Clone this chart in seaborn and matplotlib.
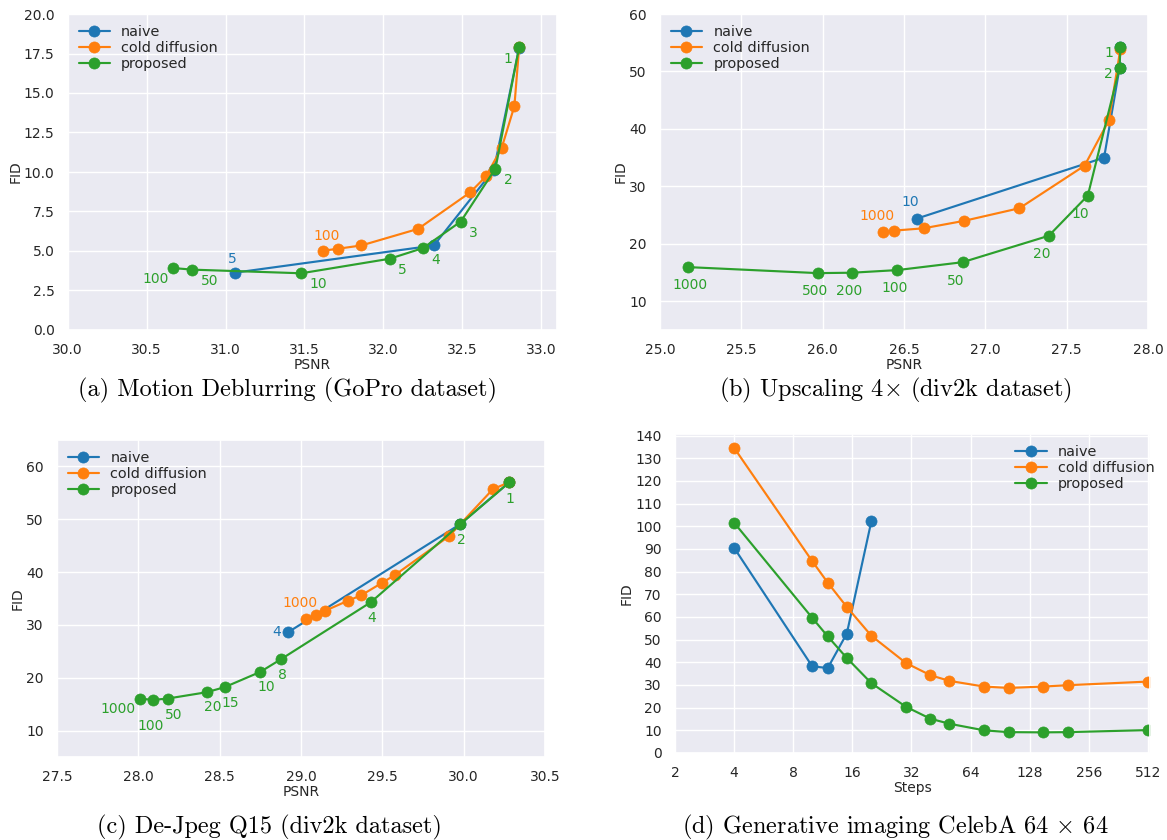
import matplotlib
matplotlib.use("Agg")
import matplotlib.pyplot as plt
import seaborn as sns
import numpy as np
import pandas as pd

# ---------------- data ----------------
series_names = ["naive", "cold diffusion", "proposed"]

# (a) Motion Deblurring
a_naive_psnr = [31.06, 32.32, 32.70, 32.86]
a_naive_fid = [3.63, 5.35, 10.15, 17.85]
a_cold_psnr = [31.62, 31.71, 31.86, 32.22, 32.55, 32.65, 32.75, 32.83, 32.86]
a_cold_fid = [5.02, 5.14, 5.35, 6.40, 8.71, 9.72, 11.54, 14.17, 17.88]
a_prop_psnr = [30.67, 30.79, 31.48, 32.04, 32.25, 32.49, 32.71, 32.86]
a_prop_fid = [3.92, 3.82, 3.59, 4.51, 5.18, 6.86, 10.22, 17.88]
a_naive_labels = ["5"]
a_cold_labels = ["100"]
a_prop_labels = ["100", "50", "10", "5", "4", "3", "2", "1"]

# (b) Upscaling 4x
b_naive_psnr = [26.58, 27.73, 27.825, 27.83]
b_naive_fid = [24.4, 35.0, 50.6, 54.2]
b_cold_psnr = [26.37, 26.44, 26.62, 26.87, 27.21, 27.61, 27.76, 27.83]
b_cold_fid = [22.0, 22.3, 22.7, 24.0, 26.2, 33.6, 41.5, 53.9]
b_prop_psnr = [25.17, 25.97, 26.18, 26.46, 26.86, 27.39, 27.63, 27.825, 27.83]
b_prop_fid = [15.95, 14.9, 14.97, 15.43, 16.8, 21.4, 28.4, 50.6, 54.2]
b_naive_labels = ["10"]
b_cold_labels = ["1000"]
b_prop_labels = ["1000", "500", "200", "100", "50", "20", "10", "2", "1"]

# (c) De-Jpeg Q15
c_naive_psnr = [28.92, 29.98, 30.28]
c_naive_fid = [28.6, 49.1, 57.0]
c_cold_psnr = [29.03, 29.09, 29.15, 29.29, 29.37, 29.50, 29.58, 29.91, 30.18, 30.28]
c_cold_fid = [31.1, 31.9, 32.7, 34.6, 35.6, 38.0, 39.5, 46.8, 55.7, 57.0]
c_prop_psnr = [28.01, 28.09, 28.18, 28.42, 28.53, 28.75, 28.88, 29.43, 29.98, 30.28]
c_prop_fid = [16.06, 15.81, 16.06, 17.26, 18.21, 21.11, 23.57, 34.31, 49.08, 56.97]
c_naive_labels = ["4"]
c_cold_labels = ["1000"]
c_prop_labels = ["1000", "100", "50", "20", "15", "10", "8", "4", "2", "1"]

# (d) Generative imaging CelebA
d_naive_steps = [4, 10, 12, 15, 20]
d_naive_fid = [90.5, 38.2, 37.5, 52.7, 102.2]
d_cold_steps = [4, 10, 12, 15, 20, 30, 40, 50, 75, 100, 150, 200, 512]
d_cold_fid = [134.6, 84.6, 75.1, 64.4, 51.7, 39.7, 34.3, 31.8, 29.3, 28.7, 29.3, 29.9, 31.5]
d_prop_steps = [4, 10, 12, 15, 20, 30, 40, 50, 75, 100, 150, 200, 512]
d_prop_fid = [101.6, 59.6, 51.4, 41.9, 30.8, 20.4, 15.1, 12.9, 10.0, 9.2, 9.1, 9.2, 10.1]
d_xticks = [2, 4, 8, 16, 32, 64, 128, 256, 512]

captions = ["(a) Motion Deblurring (GoPro dataset)",
            r"(b) Upscaling 4$\times$ (div2k dataset)",
            "(c) De-Jpeg Q15 (div2k dataset)",
            r"(d) Generative imaging CelebA 64 $\times$ 64"]

# ---------------- style ----------------
sns.set_theme(style="darkgrid")
plt.rcParams.update({
    "font.family": ["DejaVu Sans"],
    "mathtext.fontset": "cm",
    "xtick.labelsize": 10,
    "ytick.labelsize": 10,
    "axes.labelsize": 10,
    "legend.fontsize": 10.4,
    "xtick.color": "#262626",
    "ytick.color": "#262626",
})
colors = ["#1f77b4", "#ff7f0e", "#2ca02c"]

W, H = 1167, 840
fig = plt.figure(figsize=(W / 100, H / 100), dpi=100)


def add_ax(l, r, t, b):
    return fig.add_axes([l / W, 1 - b / H, (r - l) / W, (b - t) / H])


def draw(ax, xs, ys):
    for name, x, y, c in zip(series_names, xs, ys, colors):
        df = pd.DataFrame({"x": x, "y": y})
        sns.lineplot(data=df, x="x", y="y", ax=ax, color=c, label=name,
                     marker="o", markersize=8, linewidth=1.55, sort=False,
                     estimator=None, markeredgecolor=c, markeredgewidth=0.5)


def annotate(ax, x, y, labels, offsets, color):
    for xi, yi, t, off in zip(x, y, labels, offsets):
        ax.annotate(t, (xi, yi), xytext=off, textcoords="offset points",
                    ha="center", va="center", color=color, fontsize=10)


def finish(ax, xlabel, loc="upper left", anchor=None):
    ax.set_xlabel(xlabel, labelpad=0.5)
    ax.set_ylabel("FID", labelpad=1)
    kw = dict(loc=loc, frameon=False, handlelength=2.15, handletextpad=0.8,
              labelspacing=0.15, borderaxespad=0.35)
    if anchor is not None:
        kw["bbox_to_anchor"] = anchor
    ax.legend(**kw)


# (a)
ax = add_ax(67.7, 557, 14, 330)
draw(ax, [a_naive_psnr, a_cold_psnr, a_prop_psnr], [a_naive_fid, a_cold_fid, a_prop_fid])
ax.set_xlim(30.0, 33.1)
ax.set_ylim(0, 20)
ax.set_xticks(np.arange(30.0, 33.01, 0.5))
ax.set_yticks(np.arange(0, 20.01, 2.5))
annotate(ax, a_naive_psnr, a_naive_fid, a_naive_labels, [(-2, 10)], colors[0])
annotate(ax, a_cold_psnr, a_cold_fid, a_cold_labels, [(2, 10.5)], colors[1])
annotate(ax, a_prop_psnr, a_prop_fid, a_prop_labels,
         [(-12.5, -8.2), (12.5, -8.2), (12.3, -8), (9, -8.4), (9, -8.2),
          (9, -8.4), (9.3, -8.2), (-8, -8.4)], colors[2])
finish(ax, "PSNR")

# (b)
ax = add_ax(660, 1148, 14, 330)
draw(ax, [b_naive_psnr, b_cold_psnr, b_prop_psnr], [b_naive_fid, b_cold_fid, b_prop_fid])
ax.set_xlim(25.0, 28.0)
ax.set_ylim(5, 60)
ax.set_xticks(np.arange(25.0, 28.01, 0.5))
ax.set_yticks(np.arange(10, 60.1, 10))
annotate(ax, b_naive_psnr, b_naive_fid, b_naive_labels, [(-4.8, 12)], colors[0])
annotate(ax, b_cold_psnr, b_cold_fid, b_cold_labels, [(-4, 11.5)], colors[1])
annotate(ax, b_prop_psnr, b_prop_fid, b_prop_labels,
         [(1.9, -12.7), (-1.9, -13), (-1.9, -13.2), (-1.9, -13), (-4.8, -13.2),
          (-5, -13.2), (-5.3, -13.2), (-8.3, -4), (-8.3, -4.3)], colors[2])
finish(ax, "PSNR")

# (c)
ax = add_ax(57, 545, 440, 757)
draw(ax, [c_naive_psnr, c_cold_psnr, c_prop_psnr], [c_naive_fid, c_cold_fid, c_prop_fid])
ax.set_xlim(27.5, 30.5)
ax.set_ylim(5, 65)
ax.set_xticks(np.arange(27.5, 30.51, 0.5))
ax.set_yticks(np.arange(10, 60.1, 10))
annotate(ax, c_naive_psnr, c_naive_fid, c_naive_labels, [(-8.3, 0)], colors[0])
annotate(ax, c_cold_psnr, c_cold_fid, c_cold_labels, [(-4.3, 11.5)], colors[1])
annotate(ax, c_prop_psnr, c_prop_fid, c_prop_labels,
         [(-15.5, -7.7), (-1.9, -18.7), (4.3, -11.5), (4.3, -10.8), (4, -11.5),
          (4, -11), (0.5, -11.5), (0.8, -11.3), (0.8, -11.3), (0.5, -11.8)], colors[2])
finish(ax, "PSNR")

# (d)
ax = add_ax(675, 1150, 434, 753)
draw(ax, [d_naive_steps, d_cold_steps, d_prop_steps], [d_naive_fid, d_cold_fid, d_prop_fid])
ax.set_xscale("log", base=2)
ax.set_xlim(2, 525)
ax.set_ylim(0, 140.7)
ax.set_xticks(d_xticks)
ax.set_xticklabels([str(v) for v in d_xticks])
ax.xaxis.set_minor_locator(matplotlib.ticker.NullLocator())
ax.set_yticks(np.arange(0, 140.1, 10))
finish(ax, "Steps", loc="upper right", anchor=(1.033, 1.0))

# captions
cap_pos = [(287, 390), (895, 390), (269, 827), (895, 827)]
for (cx, cy), txt in zip(cap_pos, captions):
    fig.text(cx / W, 1 - cy / H, txt, ha="center", va="center",
             fontsize=17.5, family="cmr10", color="black")

fig.savefig("out.png", dpi=100)
